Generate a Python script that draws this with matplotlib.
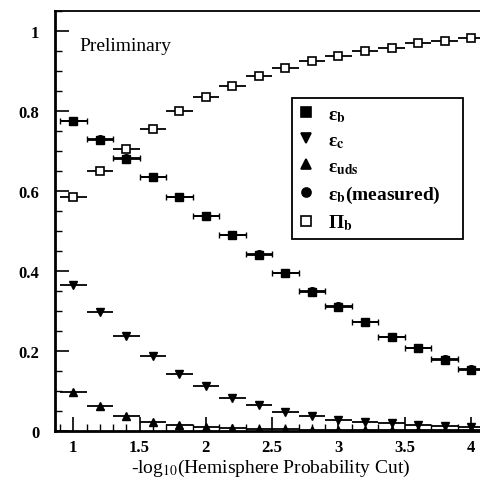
import matplotlib
matplotlib.use('Agg')
import matplotlib.pyplot as plt
from matplotlib.lines import Line2D
from matplotlib.ticker import MultipleLocator

plt.rcParams['font.family'] = ['Liberation Serif', 'DejaVu Serif']
plt.rcParams['mathtext.fontset'] = 'stix'

# cut values (bin centres) and half-width of each bin
cut = [1.0, 1.2, 1.4, 1.6, 1.8, 2.0, 2.2, 2.4, 2.6, 2.8, 3.0, 3.2, 3.4, 3.6, 3.8, 4.0]
cut_err = [0.1] * len(cut)

eff_b = [0.775, 0.729, 0.681, 0.635, 0.585, 0.537, 0.491, 0.441, 0.395, 0.349,
         0.310, 0.273, 0.235, 0.208, 0.179, 0.154]
eff_b_meas = [0.776, 0.730, 0.682, 0.636, 0.586, 0.538, 0.490, 0.442, 0.396, 0.350,
              0.312, 0.272, 0.236, 0.209, 0.180, 0.155]
eff_c = [0.366, 0.299, 0.238, 0.188, 0.143, 0.113, 0.083, 0.066, 0.049, 0.038,
         0.028, 0.023, 0.020, 0.015, 0.012, 0.010]
eff_uds = [0.098, 0.062, 0.038, 0.024, 0.016, 0.011, 0.008, 0.006, 0.005, 0.004,
           0.003, 0.003, 0.002, 0.002, 0.002, 0.002]
purity_b = [0.586, 0.650, 0.706, 0.756, 0.800, 0.835, 0.864, 0.889, 0.907, 0.925,
            0.939, 0.950, 0.958, 0.970, 0.976, 0.982]

fig = plt.figure(figsize=(4.8, 4.85), dpi=100)
# axes runs a little past the right edge, like the scanned original
ax = fig.add_axes([0.114, 0.109, 0.9006, 0.866])

common = dict(xerr=cut_err, linestyle='none', ecolor='black', elinewidth=1.3,
              color='black', markersize=5.5)

h_b = ax.errorbar(cut, eff_b, marker='s', capsize=0, **common)
h_c = ax.errorbar(cut, eff_c, marker='v', capsize=0, **common)
h_uds = ax.errorbar(cut, eff_uds, marker='^', capsize=0, **common)
h_meas = ax.errorbar(cut, eff_b_meas, marker='o', capsize=2, **common)
h_pur = ax.errorbar(cut, purity_b, marker='s', markerfacecolor='white',
                    markeredgewidth=1.2, capsize=0, **common)

ax.set_xlim(0.86, 4.12)
ax.set_ylim(0, 1.05)

ax.xaxis.set_minor_locator(MultipleLocator(0.1))
ax.yaxis.set_minor_locator(MultipleLocator(0.05))
ax.set_xticks([1, 1.5, 2, 2.5, 3, 3.5, 4])
ax.set_xticklabels(['1', '1.5', '2', '2.5', '3', '3.5', '4'])
ax.set_yticks([0, 0.2, 0.4, 0.6, 0.8, 1.0])
ax.set_yticklabels(['0', '0.2', '0.4', '0.6', '0.8', '1'])

ax.tick_params(which='both', direction='in', top=False, right=False)
ax.tick_params(which='major', length=10, width=1.2)
ax.tick_params(which='minor', length=5, width=1.0)
ax.tick_params(axis='y', pad=11, labelsize=12)
ax.tick_params(axis='x', pad=6, labelsize=12)
for lab in ax.get_xticklabels() + ax.get_yticklabels():
    lab.set_fontweight('bold')

ax.spines['left'].set_linewidth(2)
ax.spines['bottom'].set_linewidth(2)
ax.spines['top'].set_linewidth(1.3)
ax.spines['right'].set_visible(False)

ax.set_xlabel(r'-log$_{10}$(Hemisphere Probability Cut)', fontsize=14, labelpad=1)

ax.text(0.056, 0.918, 'Preliminary', transform=ax.transAxes, fontsize=14,
        va='center', ha='left')

handles = [h_b, h_c, h_uds, h_meas, h_pur]
labels = [r'ε$_\mathbf{b}$', r'ε$_\mathbf{c}$', r'ε$_\mathbf{uds}$',
          r'ε$_\mathbf{b}$(measured)', r'Π$_\mathbf{b}$']
# legend markers without the error bars
leg_handles = [Line2D([], [], marker=h[0].get_marker(), linestyle='none',
                      color='black', markerfacecolor=h[0].get_markerfacecolor(),
                      markersize=6.5, markeredgewidth=1.2) for h in handles]
leg = fig.legend(leg_handles, labels, loc='upper left', mode='expand',
                 bbox_to_anchor=(0.608, 0.508, 0.357, 0.287),
                 bbox_transform=fig.transFigure,
                 borderaxespad=0, fancybox=False, framealpha=1, edgecolor='black',
                 prop={'weight': 'bold', 'size': 14}, handlelength=0.8,
                 handletextpad=0.7, labelspacing=0.4, borderpad=0.35)
leg.get_frame().set_linewidth(1.3)

fig.savefig('out.png', dpi=100)
